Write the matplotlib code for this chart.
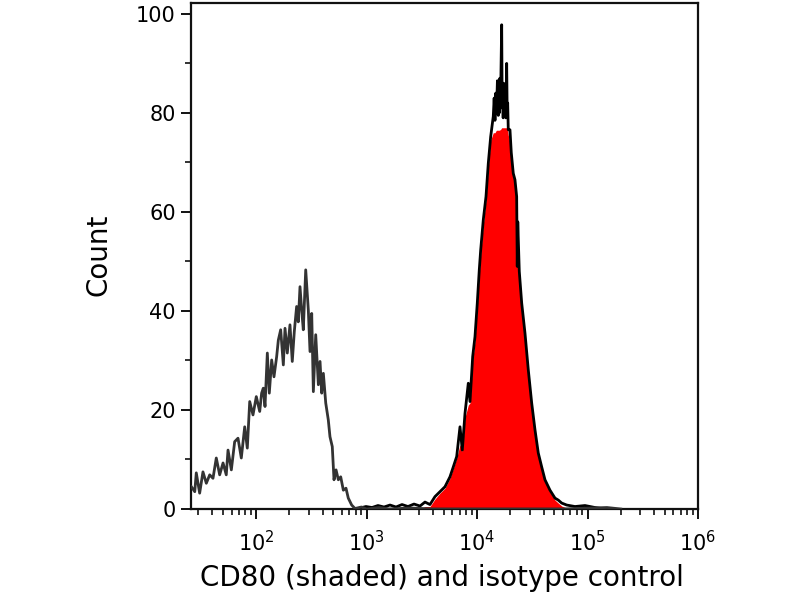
import matplotlib
matplotlib.use("Agg")
import matplotlib.pyplot as plt
from matplotlib.ticker import LogLocator, NullFormatter, FixedLocator

# ---- data ----
iso_x = [26.0, 27.9, 28.8, 30.9, 33.1, 35.5, 38.1, 40.8, 43.7, 46.9, 50.3, 53.8, 55.8,
         59.8, 64.1, 68.7, 73.6, 79.0, 83.4, 87.7, 93.9, 100.6, 108.0, 112.4, 116.4,
         120.6, 126.6, 131.9, 138.6, 145.4, 153.8, 159.2, 167.2, 176.7, 183.0, 191.9,
         202.9, 212.9, 222.0, 233.1, 241.3, 250.1, 258.9, 267.9, 281.7, 297.4, 308.1,
         319.2, 330.3, 347.0, 366.6, 379.7, 393.0, 406.8, 427.6, 451.0, 467.0, 490.0,
         508.0, 530.0, 556.0, 584.0, 617.0, 652.0, 684.0, 734.0, 787.0, 900.0, 1000.0,
         1300.0, 1600.0, 2500.0, 4000.0, 60000.0, 150000.0, 200000.0]
iso_y = [4.5, 3.5, 7.3, 3.2, 7.5, 5.2, 6.9, 6.2, 10.3, 6.9, 9.3, 6.9, 11.9,
         7.9, 13.6, 14.3, 10.3, 16.6, 12.3, 21.7, 19.0, 22.7, 19.7, 23.4, 24.4,
         20.7, 31.5, 23.4, 30.1, 26.7, 30.8, 34.1, 36.2, 29.1, 36.5, 31.5,
         37.2, 29.8, 35.8, 40.9, 37.8, 44.9, 40.2, 36.2, 48.3, 40.2, 31.8,
         39.5, 23.7, 35.2, 25.1, 29.8, 23.4, 27.4, 21.4, 18.0, 14.6, 12.6,
         5.9, 7.9, 5.9, 6.5, 3.8, 4.2, 2.2, 0.8, 0.1, 0.4, 0.0,
         0.3, 0.0, 0.2, 0.0, 0.0, 0.3, 0.0]

cd80_x = [873, 989, 1121, 1270, 1440, 1632, 1849, 2095, 2374, 2690, 3048, 3383, 3753,
          4165, 4624, 5131, 5694, 6101, 6549, 7015, 7360, 7786, 8340, 8641, 9140,
          9587, 10060, 10486, 10797, 11399, 12060, 12650, 13297,
          14037, 14300, 14542, 14780, 15005, 15300, 15578, 15750, 15904, 16100,
          16308, 16500, 16722, 16900, 17072, 17250, 17433, 17650, 17909, 18250,
          18555, 18750, 18947, 19184, 19875,
          20418, 21288, 22056, 22852, 23138, 23384, 24130, 25374, 27181, 29117, 31255,
          33475, 35859, 38495, 41230, 45762, 50780, 54390, 58400, 64800, 77020, 94890,
          116900, 144000]
cd80_line = [0.2, 0.5, 0.3, 0.7, 0.4, 0.8, 0.4, 0.9, 0.5, 1.0, 0.6, 1.4, 0.9,
             2.5, 3.5, 4.5, 6.5, 8.5, 10.6, 16.6, 11.9, 19.3, 25.4, 21.7, 30.8,
             34.8, 41.6, 48.3, 52.3, 58.4, 63.1, 69.8, 75.2,
             79.3, 83.0, 78.5, 84.0, 80.0, 86.5, 79.5, 85.3, 80.0, 87.0,
             81.0, 89.0, 97.8, 81.0, 84.0, 79.0, 86.0, 80.0, 83.0, 79.0,
             90.0, 80.0, 82.0, 76.6, 76.6,
             72.0, 67.8, 66.5, 63.1, 49.0, 58.0, 48.0, 41.6, 35.5, 28.1, 21.4,
             16.0, 11.3, 8.5, 5.9, 3.8, 2.2, 1.8, 1.2, 0.8, 0.5, 0.7,
             0.3, 0.0]
cd80_fill = [0.0, 0.0, 0.0, 0.0, 0.0, 0.0, 0.0, 0.0, 0.0, 0.0, 0.0, 0.5, 0.5,
             2.0, 3.2, 4.2, 6.2, 8.2, 10.3, 13.0, 11.6, 18.5, 21.0, 21.4, 30.0,
             34.0, 41.0, 47.5, 51.5, 57.5, 62.5, 69.0, 74.5,
             76.0, 76.0, 76.0, 76.3, 76.5, 76.5, 76.5, 76.5, 76.5, 76.6,
             76.6, 76.8, 77.0, 77.0, 77.0, 77.0, 77.0, 77.0, 77.0, 77.0,
             77.0, 77.0, 76.5, 75.5, 74.0,
             71.0, 67.0, 65.5, 62.0, 60.0, 57.0, 47.5, 41.0, 35.0, 27.5, 21.0,
             15.5, 10.8, 8.0, 5.5, 3.4, 1.8, 1.2, 0.6, 0.2, 0.0, 0.0,
             0.0, 0.0]

y_ticks = [0, 20, 40, 60, 80, 100]
x_decades = [1e2, 1e3, 1e4, 1e5, 1e6]
x_labels = ["$10^{2}$", "$10^{3}$", "$10^{4}$", "$10^{5}$", "$10^{6}$"]

plt.rcParams["font.family"] = ["DejaVu Sans"]
plt.rcParams["mathtext.fontset"] = "dejavusans"

fig = plt.figure(figsize=(8, 6), dpi=100)
ax = fig.add_axes([191 / 800, 91 / 600, 507 / 800, 506 / 600])

ax.fill_between(cd80_x, cd80_fill, 0, color="#ff0000", linewidth=0, zorder=2)
ax.plot(cd80_x, cd80_line, color="black", linewidth=2.0, zorder=3)
ax.plot(iso_x, iso_y, color="#333333", linewidth=2.0, zorder=3)

ax.set_xscale("log")
ax.set_xlim(25.8, 1e6)
ax.set_ylim(0, 102.2)

ax.xaxis.set_major_locator(FixedLocator(x_decades))
ax.set_xticklabels(x_labels)
ax.xaxis.set_minor_locator(LogLocator(base=10, subs=range(2, 10), numticks=20))
ax.xaxis.set_minor_formatter(NullFormatter())
ax.set_yticks(y_ticks)
ax.set_yticks([10, 30, 50, 70, 90], minor=True)

for s in ax.spines.values():
    s.set_linewidth(1.6)
    s.set_color("#111111")

ax.tick_params(axis="both", which="major", direction="out", length=7, width=1.4,
               labelsize=15, color="#111111", pad=4)
ax.tick_params(axis="both", which="minor", direction="out", length=4, width=1.2,
               color="#111111")
ax.tick_params(axis="x", which="major", labelsize=15, pad=8)

fig.text(98 / 800, 1 - 255 / 600, "Count", rotation=90, ha="center", va="center",
         fontsize=20)
fig.text(442 / 800, 1 - 578 / 600, "CD80 (shaded) and isotype control",
         ha="center", va="center", fontsize=20)

fig.savefig("out.png", dpi=100)
